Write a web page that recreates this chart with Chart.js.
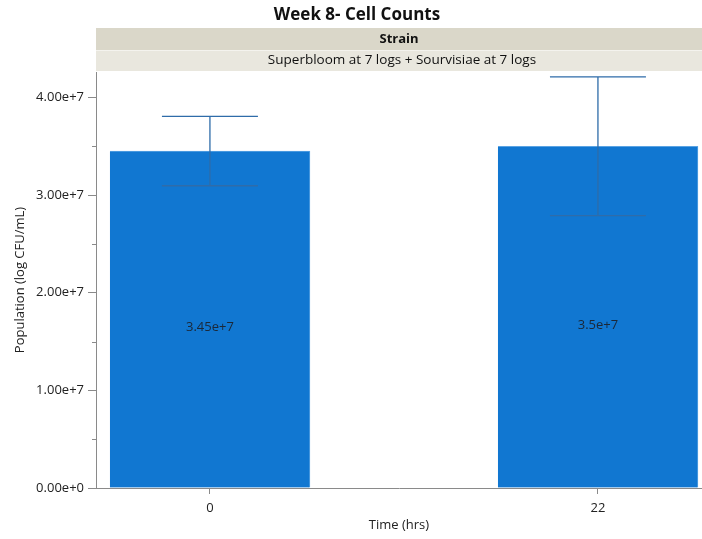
<!DOCTYPE html>
<html>
<head>
<meta charset="utf-8">
<script src="https://cdn.jsdelivr.net/npm/chart.js@4"></script>
<style>
  html, body { margin: 0; padding: 0; background: #fff; overflow: hidden; }
  #wrap { width: 702px; height: 539px; }
</style>
</head>
<body>
<div id="wrap"><canvas id="cellChart" width="702" height="539"></canvas></div>
<script>
// data
const timeLabels = [0, 22];
const population = [3.45e7, 3.5e7];
const errorSize = [0.355e7, 0.71e7];
const valueLabels = ['3.45e+7', '3.5e+7'];
const yTicks = [0, 1e7, 2e7, 3e7, 4e7];
const yTickLabels = ['0.00e+0', '1.00e+7', '2.00e+7', '3.00e+7', '4.00e+7'];
const yMinorTicks = [0.5e7, 1.5e7, 2.5e7, 3.5e7];

const fontFam = '"Open Sans", "Noto Sans", sans-serif';

// title + header bands (Strain / group)
const headerPlugin = {
  id: 'header',
  beforeDraw(chart) {
    const c = chart.ctx, a = chart.chartArea;
    c.save();
    c.fillStyle = '#dad7c9';
    c.fillRect(a.left, 28, a.right - a.left, 22);
    c.fillStyle = '#e9e7de';
    c.fillRect(a.left, 50, a.right - a.left, 21);
    c.strokeStyle = '#f4f3ee';
    c.lineWidth = 1;
    c.beginPath();
    c.moveTo(a.left, 50.5); c.lineTo(a.right, 50.5);
    c.stroke();
    c.textAlign = 'center';
    c.textBaseline = 'middle';
    c.fillStyle = '#111';
    c.font = 'bold 17px ' + fontFam;
    c.fillText('Week 8- Cell Counts', 357, 15);
    c.font = 'bold 13px ' + fontFam;
    c.fillText('Strain', 399, 39);
    c.font = '13.5px ' + fontFam;
    c.fillText('Superbloom at 7 logs + Sourvisiae at 7 logs', 402, 60);
    c.restore();
  }
};

// error bars, value labels and minor y ticks
const extrasPlugin = {
  id: 'extras',
  afterDatasetsDraw(chart) {
    const c = chart.ctx, y = chart.scales.y, a = chart.chartArea;
    const meta = chart.getDatasetMeta(0);
    c.save();
    c.strokeStyle = '#2f6ca9';
    c.lineWidth = 1.3;
    meta.data.forEach((bar, i) => {
      const top = y.getPixelForValue(population[i] + errorSize[i]);
      const bot = y.getPixelForValue(population[i] - errorSize[i]);
      c.beginPath();
      c.moveTo(bar.x, top); c.lineTo(bar.x, bot);
      c.moveTo(bar.x - 48, top); c.lineTo(bar.x + 48, top);
      c.moveTo(bar.x - 48, bot); c.lineTo(bar.x + 48, bot);
      c.stroke();
      c.fillStyle = '#1b2838';
      c.font = '13px ' + fontFam;
      c.textAlign = 'center';
      c.textBaseline = 'middle';
      c.fillText(valueLabels[i], bar.x, y.getPixelForValue(population[i] / 2) + 8);
    });
    c.strokeStyle = '#8a8a8a';
    c.lineWidth = 1;
    yMinorTicks.forEach(v => {
      const py = Math.round(y.getPixelForValue(v)) + 0.5;
      c.beginPath();
      c.moveTo(a.left - 4, py); c.lineTo(a.left, py);
      c.stroke();
    });
    c.restore();
  }
};

new Chart(document.getElementById('cellChart'), {
  type: 'bar',
  data: {
    datasets: [{
      data: timeLabels.map((t, i) => ({ x: t, y: population[i] })),
      backgroundColor: '#1177d1',
      borderColor: '#5aa3e3',
      borderWidth: { top: 1, right: 1, left: 0, bottom: 0 },
      barThickness: 200
    }]
  },
  plugins: [headerPlugin, extrasPlugin],
  options: {
    responsive: false,
    animation: false,
    layout: { padding: { top: 72, left: 0, right: 0, bottom: 0 } },
    plugins: {
      legend: { display: false },
      tooltip: { enabled: false }
    },
    scales: {
      x: {
        type: 'linear',
        offset: false,
        min: -6.46,
        max: 27.9,
        afterBuildTicks(scale) {
          scale.ticks = timeLabels.map(v => ({ value: v }));
        },
        afterFit(scale) { scale.height = 51; },
        grid: { display: true, drawOnChartArea: false, offset: false, tickLength: 6, color: '#8a8a8a' },
        border: { color: '#8a8a8a' },
        ticks: {
          color: '#222',
          font: { family: fontFam, size: 13 },
          padding: 6,
          callback: v => String(v)
        },
        title: {
          display: true,
          text: 'Time (hrs)',
          color: '#222',
          font: { family: fontFam, size: 13 },
          padding: { top: 0, bottom: 6 }
        }
      },
      y: {
        min: 0,
        max: 4.26e7,
        afterBuildTicks(scale) {
          scale.ticks = yTicks.map(v => ({ value: v }));
        },
        afterFit(scale) { scale.width = 96; },
        grid: { display: true, drawOnChartArea: false, tickLength: 8, color: '#8a8a8a' },
        border: { color: '#8a8a8a' },
        ticks: {
          color: '#222',
          font: { family: fontFam, size: 13 },
          padding: 4,
          callback: (v) => yTickLabels[yTicks.indexOf(v)]
        },
        title: {
          display: true,
          text: 'Population (log CFU/mL)',
          color: '#222',
          font: { family: fontFam, size: 13 },
          padding: { top: 12, bottom: 0 }
        }
      }
    }
  }
});
</script>
</body>
</html>
